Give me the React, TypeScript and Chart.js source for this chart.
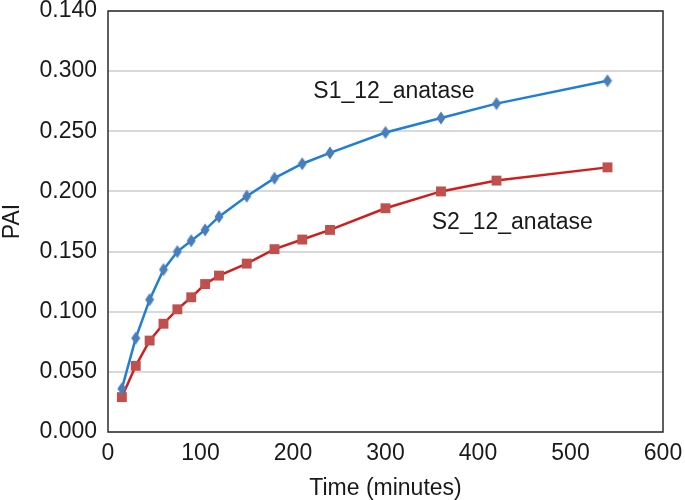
import React, { useEffect, useRef } from 'react';
import { Chart, registerables } from 'chart.js';

Chart.register(...registerables);

const timeMinutes = [15, 30, 45, 60, 75, 90, 105, 120, 150, 180, 210, 240, 300, 360, 420, 540];
const s1Values = [0.036, 0.078, 0.110, 0.135, 0.150, 0.159, 0.168, 0.179, 0.196, 0.211, 0.223, 0.232, 0.249, 0.261, 0.273, 0.292];
const s2Values = [0.029, 0.055, 0.076, 0.090, 0.102, 0.112, 0.123, 0.130, 0.140, 0.152, 0.160, 0.168, 0.186, 0.200, 0.209, 0.220];
const yTickLabels = ['0.000', '0.050', '0.100', '0.150', '0.200', '0.250', '0.300', '0.140'];
const seriesNames = ['S1_12_anatase', 'S2_12_anatase'];
const labelAnchors = [
  { x: 222, y: 0.2826 },
  { x: 350, y: 0.1737 },
];

const FONT = '"Liberation Sans", Arial, sans-serif';
const TEXT = '#1a1a1a';
const FS = 23;

function makeDiamond(): HTMLCanvasElement {
  const c = document.createElement('canvas');
  c.width = 10;
  c.height = 14;
  const g = c.getContext('2d')!;
  g.fillStyle = '#4a7ebb';
  g.beginPath();
  g.moveTo(5, 0.5);
  g.lineTo(9.5, 7);
  g.lineTo(5, 13.5);
  g.lineTo(0.5, 7);
  g.closePath();
  g.fill();
  return c;
}

function zeroPadding(scale: any) {
  scale.paddingTop = 0;
  scale.paddingBottom = 0;
  scale.paddingLeft = 0;
  scale.paddingRight = 0;
}

export default function App() {
  const ref = useRef<HTMLCanvasElement | null>(null);

  useEffect(() => {
    if (!ref.current) return;
    const diamond = makeDiamond();

    const framePlugin = {
      id: 'frame',
      beforeDatasetsDraw(chart: any) {
        const { ctx, chartArea: a } = chart;
        ctx.save();
        ctx.strokeStyle = '#2b2b2b';
        ctx.lineWidth = 1.5;
        ctx.strokeRect(a.left, a.top, a.right - a.left, a.bottom - a.top);
        ctx.restore();
      },
      afterDraw(chart: any) {
        const { ctx } = chart;
        const xs = chart.scales.x;
        const ys = chart.scales.y;
        ctx.save();
        ctx.fillStyle = TEXT;
        ctx.font = `${FS}px ${FONT}`;
        ctx.textAlign = 'left';
        ctx.textBaseline = 'middle';
        seriesNames.forEach((name, i) => {
          const p = labelAnchors[i];
          ctx.fillText(name, xs.getPixelForValue(p.x), ys.getPixelForValue(p.y));
        });
        ctx.restore();
      },
    };

    const chart = new Chart(ref.current, {
      type: 'line',
      data: {
        datasets: [
          {
            label: seriesNames[0],
            data: timeMinutes.map((t, i) => ({ x: t, y: s1Values[i] })),
            borderColor: '#1f7fd4',
            borderWidth: 2.5,
            pointStyle: diamond as any,
            pointRadius: 6,
            backgroundColor: '#4a7ebb',
            tension: 0,
          },
          {
            label: seriesNames[1],
            data: timeMinutes.map((t, i) => ({ x: t, y: s2Values[i] })),
            borderColor: '#d01e1e',
            borderWidth: 2.5,
            pointStyle: 'rect',
            pointRadius: 7,
            pointBackgroundColor: '#c0504d',
            pointBorderColor: '#c0504d',
            pointBorderWidth: 0,
            backgroundColor: '#c0504d',
            tension: 0,
          },
        ],
      },
      options: {
        animation: false,
        responsive: false,
        maintainAspectRatio: false,
        layout: { padding: { top: 11, right: 22, left: 0, bottom: 0 } },
        plugins: {
          legend: { display: false },
          tooltip: { enabled: false },
        },
        scales: {
          x: {
            type: 'linear',
            min: 0,
            max: 600,
            ticks: {
              stepSize: 100,
              color: TEXT,
              font: { family: FONT, size: FS },
              padding: 8,
              maxRotation: 0,
            },
            grid: { display: false, drawTicks: false },
            border: { display: false },
            title: {
              display: true,
              text: 'Time (minutes)',
              color: TEXT,
              font: { family: FONT, size: FS, lineHeight: 1 },
              padding: { top: 0, bottom: 0 },
            },
            afterFit(scale: any) {
              scale.height = 68;
              zeroPadding(scale);
            },
          },
          y: {
            type: 'linear',
            min: 0,
            max: 0.35,
            ticks: {
              stepSize: 0.05,
              color: TEXT,
              font: { family: FONT, size: FS },
              padding: 11,
              callback: (_v: any, i: number) => yTickLabels[i],
            },
            grid: { color: '#d9d9d9', lineWidth: 2, drawTicks: false },
            border: { display: false },
            title: {
              display: true,
              text: 'PAI',
              color: TEXT,
              font: { family: FONT, size: FS, lineHeight: 1 },
              padding: { top: 1, bottom: 0 },
            },
            afterFit(scale: any) {
              scale.width = 108;
              zeroPadding(scale);
            },
          },
        },
      },
      plugins: [framePlugin],
    });
    return () => chart.destroy();
  }, []);

  return (
    <div style={{ position: 'fixed', left: 0, top: 0, width: 685, height: 500, background: '#fff' }}>
      <canvas ref={ref} width={685} height={500} style={{ display: 'block' }} />
    </div>
  );
}
